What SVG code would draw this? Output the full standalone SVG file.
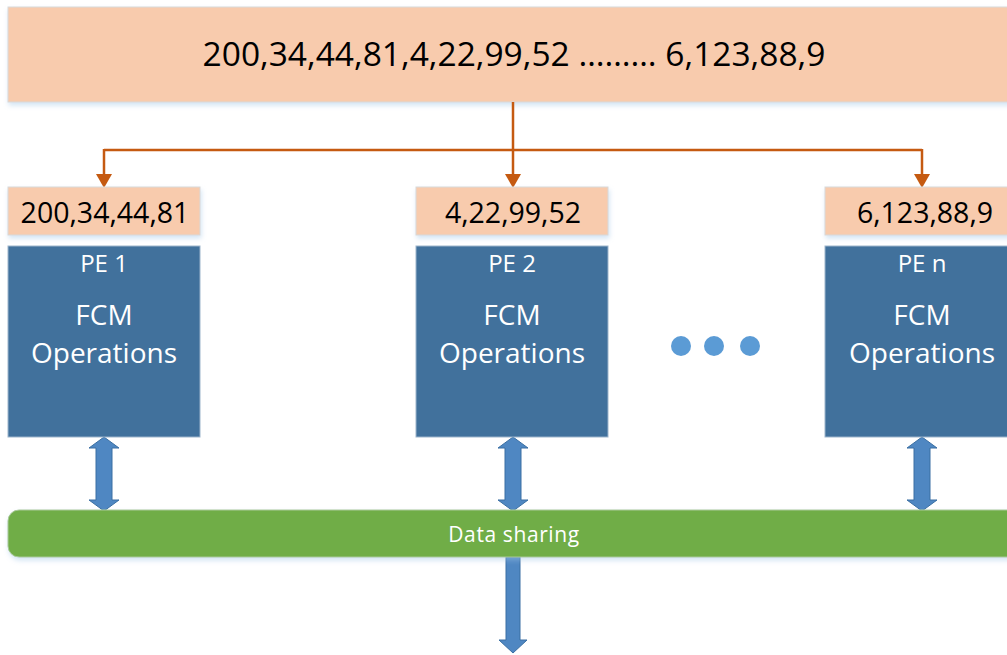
<svg xmlns="http://www.w3.org/2000/svg" width="1007" height="655" viewBox="0 0 1007 655">
<defs>
<filter id="sh" x="-5%" y="-5%" width="115%" height="130%">
<feDropShadow dx="1" dy="3" stdDeviation="2.5" flood-color="#9dc3e6" flood-opacity="0.45"/>
</filter>
</defs>
<style>
.peach{fill:#F8CBAD;stroke:#d9d9d9;stroke-width:1;}
.pe{fill:#41719C;stroke:#9db5cc;stroke-width:1;}
.t{font-family:"Open Sans","Liberation Sans",sans-serif;fill:#000;text-anchor:middle;}
.w{font-family:"Open Sans","Liberation Sans",sans-serif;fill:#fff;text-anchor:middle;}
.oc{fill:none;stroke:#C55A11;stroke-width:2.5;}
.ah{fill:#C55A11;}
.ba{fill:#4F87C2;stroke:#3a6fa3;stroke-width:1;}
.dot{fill:#5B9BD5;}
</style>
<rect width="1007" height="655" fill="#fff"/>
<g id="top">
<rect class="peach" x="8" y="7" width="1010" height="95" filter="url(#sh)"/>
<text class="t" x="514" y="66" font-size="33.5">200,34,44,81,4,22,99,52 ……… 6,123,88,9</text>
</g>
<g id="connectors">
<path class="oc" d="M513,102 V176"/>
<path class="oc" d="M104,150 H922"/>
<path class="oc" d="M104,149 V176"/>
<path class="oc" d="M922,149 V176"/>
<path class="ah" d="M96,174 L112,174 L104,188 z"/>
<path class="ah" d="M505,174 L521,174 L513,188 z"/>
<path class="ah" d="M914,174 L930,174 L922,188 z"/>
<path class="ba" d="M104,437 L119,448 L112,448 L112,500 L119,500 L104,511 L89,500 L96,500 L96,448 L89,448 z"/>
<path class="ba" d="M513,437 L528,448 L521,448 L521,500 L528,500 L513,511 L498,500 L505,500 L505,448 L498,448 z"/>
<path class="ba" d="M922,437 L937,448 L930,448 L930,500 L937,500 L922,511 L907,500 L914,500 L914,448 L907,448 z"/>
<path class="ba" d="M506,557 L520,557 L520,640 L527,640 L513,653 L499,640 L506,640 z"/>
</g>
<g id="in1">
<rect class="peach" x="8" y="187" width="192" height="48" filter="url(#sh)"/>
<text class="t" x="105" y="223" font-size="28.5">200,34,44,81</text>
</g>
<g id="in2">
<rect class="peach" x="416" y="187" width="192" height="48" filter="url(#sh)"/>
<text class="t" x="513" y="223" font-size="28.5">4,22,99,52</text>
</g>
<g id="in3">
<rect class="peach" x="825" y="187" width="200" height="48" filter="url(#sh)"/>
<text class="t" x="925" y="223" font-size="28.5">6,123,88,9</text>
</g>
<g id="pe1">
<rect class="pe" x="8" y="246" width="192" height="191"/>
<text class="w" x="104" y="272" font-size="24">PE 1</text>
<text class="w" x="104" y="325" font-size="28">FCM</text>
<text class="w" x="104" y="363" font-size="28">Operations</text>
</g>
<g id="pe2">
<rect class="pe" x="416" y="246" width="192" height="191"/>
<text class="w" x="512" y="272" font-size="24">PE 2</text>
<text class="w" x="512" y="325" font-size="28">FCM</text>
<text class="w" x="512" y="363" font-size="28">Operations</text>
</g>
<g id="pen">
<rect class="pe" x="825" y="246" width="200" height="191"/>
<text class="w" x="922" y="272" font-size="24">PE n</text>
<text class="w" x="922" y="325" font-size="28">FCM</text>
<text class="w" x="922" y="363" font-size="28">Operations</text>
</g>
<g id="dots">
<circle class="dot" cx="681" cy="346" r="10"/>
<circle class="dot" cx="714" cy="346" r="10"/>
<circle class="dot" cx="750" cy="346" r="10"/>
</g>
<g id="bus">
<rect x="8" y="510" width="1020" height="47" rx="11" fill="#70AD47" stroke="#a9c99a" stroke-width="1" filter="url(#sh)"/>
<text class="w" x="514" y="542" font-size="21" letter-spacing="0.6">Data sharing</text>
</g>
</svg>
